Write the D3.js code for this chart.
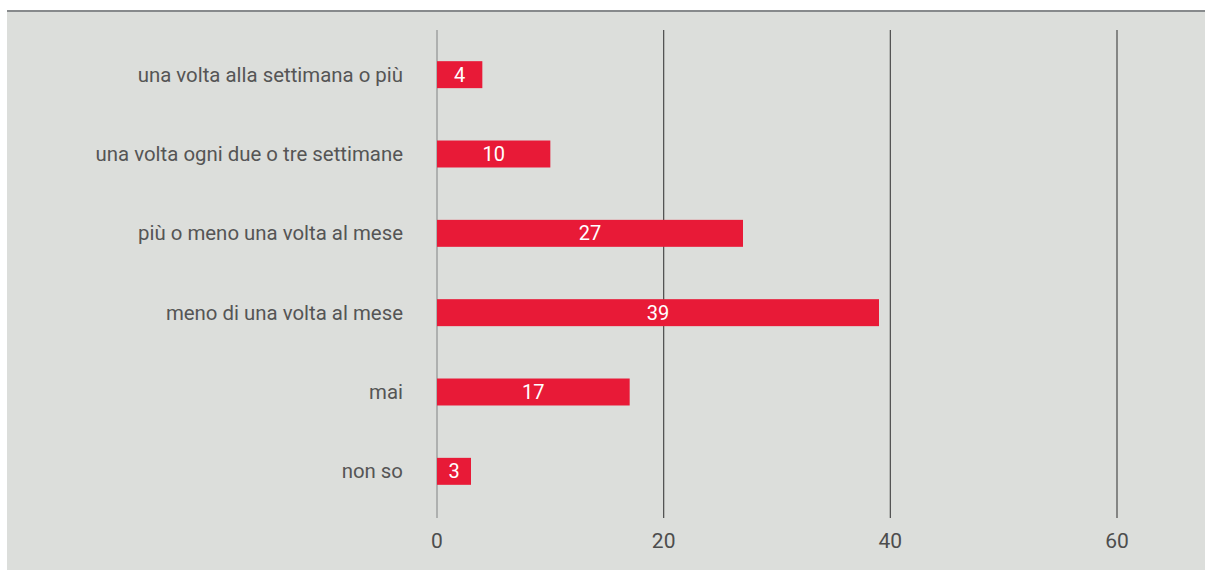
<!DOCTYPE html>
<html>
<head>
<meta charset="utf-8">
<script src="https://cdn.jsdelivr.net/npm/d3@7"></script>
<style>
  body { margin: 0; background: #fff; }
  svg { display: block; font-family: Roboto, "Liberation Sans", Arial, sans-serif; }
</style>
</head>
<body>
<svg id="chart" width="1205" height="570"></svg>
<script>
let categories = [
    "una volta alla settimana o più",
    "una volta ogni due o tre settimane",
    "più o meno una volta al mese",
    "meno di una volta al mese",
    "mai",
    "non so"
];
let values = [4, 10, 27, 39, 17, 3];
let ticks = [0, 20, 40, 60];

let svg = d3.select("#chart");

// background panel + top rule
svg.append("rect")
    .attr("x", 7).attr("y", 11)
    .attr("width", 1198).attr("height", 559)
    .attr("fill", "#dcdedb");
svg.append("line")
    .attr("x1", 7).attr("x2", 1205)
    .attr("y1", 11).attr("y2", 11)
    .attr("stroke", "#878a8c")
    .attr("stroke-width", 2);

let x = d3.scaleLinear().domain([0, 60]).range([437, 1117]);
let y = d3.scaleBand().domain(categories).range([35, 511]).paddingInner(0.66).paddingOuter(0.33);

// gridlines
svg.append("g")
    .selectAll("line")
    .data(ticks).enter().append("line")
    .attr("x1", d => x(d)).attr("x2", d => x(d))
    .attr("y1", 30).attr("y2", 518)
    .attr("stroke", d => d === 0 ? "#8f9192" : "#4a4a4a")
    .attr("stroke-width", 1.2);

// tick labels
svg.append("g")
    .selectAll("text")
    .data(ticks).enter().append("text")
    .attr("x", d => x(d))
    .attr("y", 541)
    .attr("text-anchor", "middle")
    .attr("dominant-baseline", "central")
    .attr("font-size", 21)
    .attr("fill", "#4d4d4d")
    .text(d => d);

// bars
let bars = svg.append("g")
    .selectAll("g")
    .data(values).enter().append("g");

bars.append("rect")
    .attr("x", x(0))
    .attr("y", (d, i) => y(categories[i]))
    .attr("width", d => x(d) - x(0))
    .attr("height", y.bandwidth())
    .attr("fill", "#e81a37");

bars.append("text")
    .attr("x", d => (x(d) + x(0)) / 2)
    .attr("y", (d, i) => y(categories[i]) + y.bandwidth() / 2)
    .attr("text-anchor", "middle")
    .attr("dominant-baseline", "central")
    .attr("font-size", 20)
    .attr("fill", "#fff")
    .text(d => d);

// category labels
svg.append("g")
    .selectAll("text")
    .data(categories).enter().append("text")
    .attr("x", 403)
    .attr("y", d => y(d) + y.bandwidth() / 2)
    .attr("text-anchor", "end")
    .attr("dominant-baseline", "central")
    .attr("font-size", 20.4)
    .attr("fill", "#555")
    .text(d => d);
</script>
</body>
</html>
